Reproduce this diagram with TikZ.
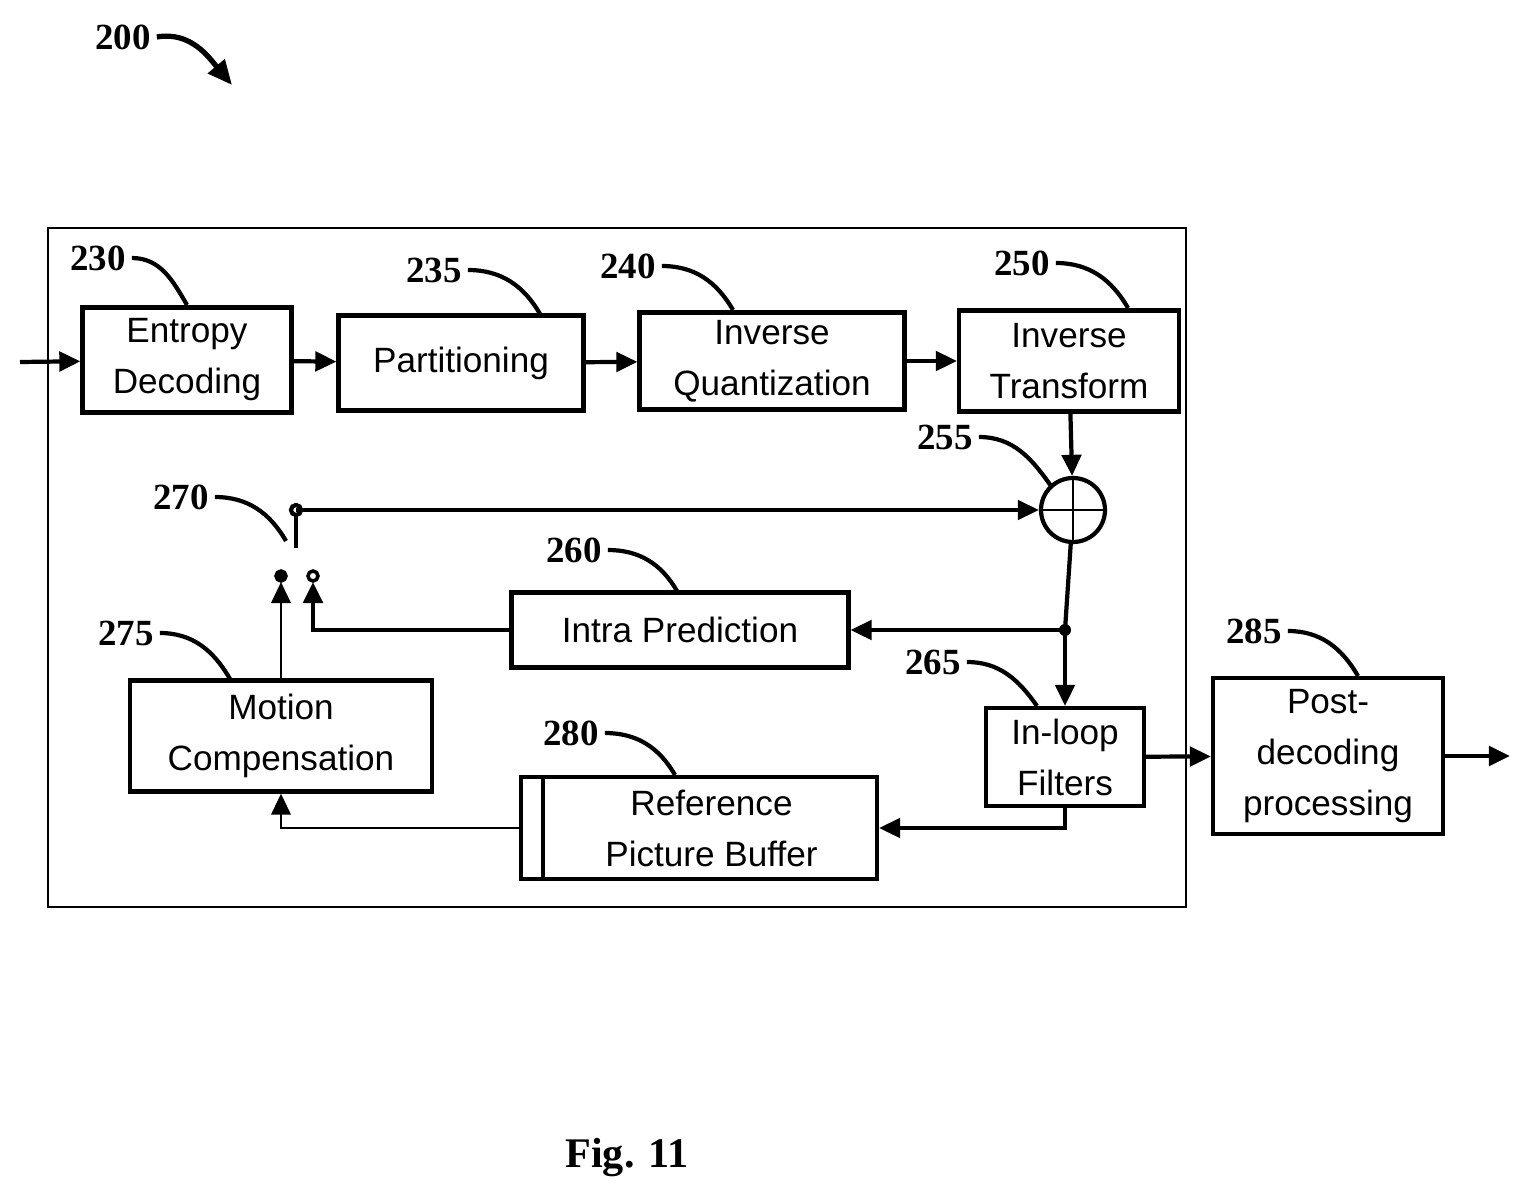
\documentclass[tikz,border=0pt]{standalone}
\usepackage{fontspec}
\setmainfont{Liberation Serif}
\newfontfamily\boxfont{Liberation Sans}
\usetikzlibrary{arrows.meta}
\begin{document}
\begin{tikzpicture}[x=0.02cm,y=-0.02cm,
    blk/.style={draw,line width=2.4pt,inner sep=0pt,align=center,
      font=\boxfont\fontsize{20}{29}\selectfont},
    num/.style={font=\bfseries\fontsize{21}{21}\selectfont},
    lead/.style={line width=2.4pt},
    flow/.style={line width=2.4pt,-{Triangle[length=12pt,width=11pt]}},
    line/.style={line width=2.4pt}]
    \useasboundingbox (0,0) rectangle (1532,1203);
    \draw[line width=0.8pt] (48,228) rectangle (1186,907);
    % blocks
    \draw (187,360) 	node (ent) [blk,minimum width=4.18cm,minimum height=2.1cm] {Entropy\\Decoding};
    \draw (461,363) 	node (par) [blk,minimum width=4.9cm,minimum height=1.9cm] {Partitioning};
    \draw (772,361) 	node (iq) [blk,minimum width=5.3cm,minimum height=1.94cm] {Inverse\\Quantization};
    \draw (1069,361) 	node (it) [blk,minimum width=4.4cm,minimum height=2.02cm] {Inverse\\Transform};
    \draw (1073,510) 	node (add) [draw,circle,line width=2.4pt,minimum size=1.28cm,inner sep=0pt] {};
    \draw (680,630) 	node (ip) [blk,minimum width=6.74cm,minimum height=1.5cm] {Intra Prediction};
    \draw (1065,757) 	node (ilf) [blk,minimum width=3.16cm,minimum height=1.96cm] {In-loop\\Filters};
    \draw (1328,756) 	node (post) [blk,minimum width=4.6cm,minimum height=3.12cm] {Post-\\decoding\\processing};
    \draw (281,736) 	node (mc) [blk,minimum width=6.04cm,minimum height=2.22cm] {Motion\\Compensation};
    \draw (699,828) 	node (rpb) [blk,minimum width=7.12cm,minimum height=2.04cm] {\hspace*{0.5cm}Reference\\\hspace*{0.5cm}Picture Buffer};
    \draw[line] ([xshift=0.48cm]rpb.north west) -- ([xshift=0.48cm]rpb.south west);
    % adder cross
    \draw[line width=1.6pt] (add.north) -- (add.south) (add.west) -- (add.east);
    % switch
    \coordinate (sw) at (296,510);
    \coordinate (swe) at (296,548);
    \coordinate (dot) at (ilf.north |- ip.east);
    \coordinate (in) at (20,362);
    \coordinate (out) at (1510,756);
    \draw[line] (sw) -- (swe);
    \draw[line,fill=white] (sw) circle (5);
    % connectors
    \draw[flow] (in) -- (ent);
    \draw[flow] (ent) -- (par);
    \draw[flow] (par) -- (iq);
    \draw[flow] (iq) -- (it);
    \draw[flow] (it) -- (add);
    \draw[flow] (sw) -- (add);
    \draw[line] (add) -- (dot);
    \draw[flow] (dot) -- (ilf);
    \draw[flow] (dot) -- (ip);
    \fill (dot) circle (6);
    \draw[flow] (ilf) -- (post);
    \draw[flow] (post) -- (out);
    \draw[flow] (ilf.south) |- (rpb.east);
    \draw[flow,line width=1.6pt] (rpb.west) -| (mc.south);
    \draw[flow,line width=1.6pt] (mc.north) -- (281,582);
    \draw[flow] (ip.west) -| (313,582);
    \draw[line width=2pt,fill=black] (281,576) circle (5);
    \draw[line width=2pt,fill=white] (313,576) circle (5);
    % labels
    \node (n200) [num] at (123,37) {200};
    \draw[line width=3pt,-{Triangle[length=14pt,width=12pt]}] (n200.east) to[out=10,in=130] (232,85);
    \node (n230) [num] at (98,258) {230};
    \draw[lead] (n230.east) to[out=0,in=120] (ent.north |- 0,305);
    \node (n235) [num] at (434,270) {235};
    \draw[lead] (n235.east) to[out=0,in=120] (540,314);
    \node (n240) [num] at (628,266) {240};
    \draw[lead] (n240.east) to[out=0,in=120] (733,310);
    \node (n250) [num] at (1022,263) {250};
    \draw[lead] (n250.east) to[out=0,in=120] (1128,308);
    \node (n255) [num] at (945,437) {255};
    \draw[lead] (n255.east) to[out=0,in=125] (1051,486);
    \node (n270) [num] at (181,497) {270};
    \draw[lead] (n270.east) to[out=0,in=120] (286,541);
    \node (n260) [num] at (574,550) {260};
    \draw[lead] (n260.east) to[out=0,in=120] (677,591);
    \node (n275) [num] at (126,633) {275};
    \draw[lead] (n275.east) to[out=0,in=120] (230,679);
    \node (n265) [num] at (933,662) {265};
    \draw[lead] (n265.east) to[out=0,in=125] (1037,706);
    \node (n280) [num] at (571,733) {280};
    \draw[lead] (n280.east) to[out=0,in=120] (675,775);
    \node (n285) [num] at (1254,631) {285};
    \draw[lead] (n285.east) to[out=0,in=120] (1358,676);
    \node (fig) [font=\bfseries\fontsize{24}{24}\selectfont] at (627,1158) {Fig. 11};
\end{tikzpicture}
\end{document}
